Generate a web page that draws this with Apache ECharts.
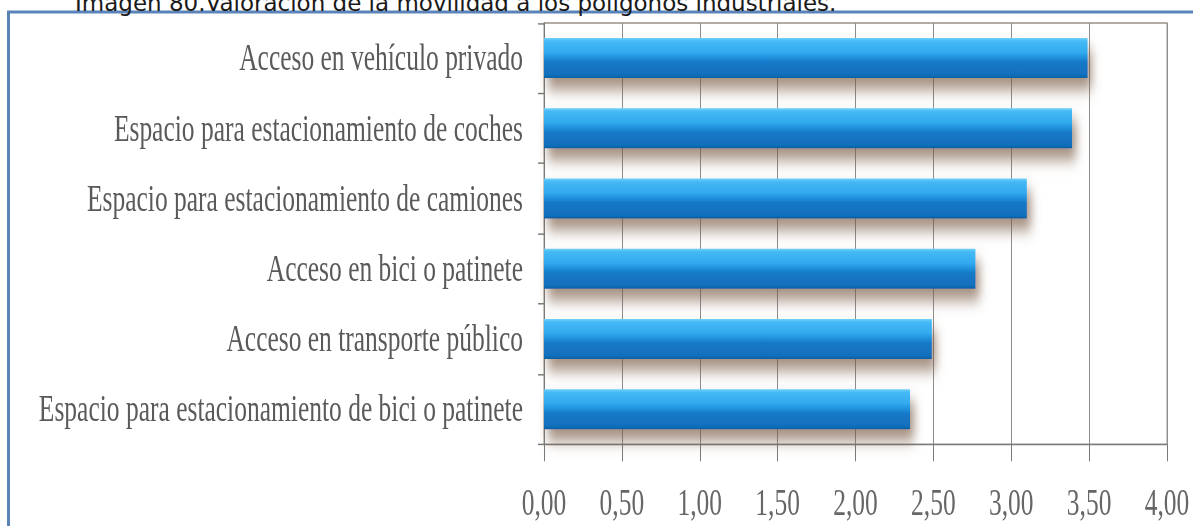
<!DOCTYPE html>
<html>
<head>
<meta charset="utf-8">
<script src="https://cdn.jsdelivr.net/npm/echarts@6/dist/echarts.min.js"></script>
<style>
  html, body { margin: 0; padding: 0; background: #ffffff; overflow: hidden; }
  #frame { position: absolute; left: 0; top: 0; width: 1193px; height: 526px; }
  #chart { position: absolute; left: 0; top: 0; width: 1193px; transform-origin: 0 0; }
</style>
</head>
<body>
<div id="frame"></div>
<div id="chart"></div>
<script>
// Valoración media de cada aspecto de la movilidad (escala 0-4)
const categories = [
  'Acceso en vehículo privado',
  'Espacio para estacionamiento de coches',
  'Espacio para estacionamiento de camiones',
  'Acceso en bici o patinete',
  'Acceso en transporte público',
  'Espacio para estacionamiento de bici o patinete'
];
const values = [3.49, 3.39, 3.10, 2.77, 2.49, 2.35];
const tickLabels = ['0,00', '0,50', '1,00', '1,50', '2,00', '2,50', '3,00', '3,50', '4,00'];
const caption = 'Imagen 80.Valoración de la movilidad a los polígonos industriales.';

// The plot uses a tall, narrow serif lettering: the chart layer is drawn
// at reduced height and stretched vertically by K.
const K = 1.45;
const W = 1193, H = 526;

const chartEl = document.getElementById('chart');
chartEl.style.height = (H / K) + 'px';
chartEl.style.transform = 'scaleY(' + K + ')';

// Caption (running off the top edge) and blue frame, unstretched layer
const frame = echarts.init(document.getElementById('frame'), null, { renderer: 'svg' });
frame.setOption({
  backgroundColor: '#ffffff',
  graphic: [
    {
      type: 'rect',
      shape: { x: 8.5, y: 12, width: 1300, height: 700 },
      style: { fill: 'none', stroke: '#5a84b9', lineWidth: 3 }
    },
    {
      type: 'text',
      x: 75, y: -9,
      style: {
        text: caption,
        fontFamily: 'DejaVu Sans',
        fontSize: 23,
        fill: '#1a1a1a',
        verticalAlign: 'top',
        align: 'left'
      }
    }
  ]
});

const chart = echarts.init(chartEl, null, { renderer: 'svg' });
const textFont = 'Liberation Serif';

chart.setOption({
  backgroundColor: 'transparent',
  animation: false,
  grid: {
    left: 544,
    right: W - 1167,
    top: 23 / K,
    bottom: (H - 444) / K,
    show: true,
    borderColor: '#9a9188',
    borderWidth: 1
  },
  xAxis: {
    type: 'value',
    min: 0,
    max: 4,
    interval: 0.5,
    axisLine: { show: true, lineStyle: { color: '#7a7a7a', width: 1 } },
    axisTick: { show: true, length: 17 / K, lineStyle: { color: '#7a7a7a' } },
    splitLine: { show: true, lineStyle: { color: '#8e8e8e', width: 1 } },
    axisLabel: {
      margin: 27,
      fontFamily: textFont,
      fontSize: 25.5,
      color: '#666666',
      formatter: v => tickLabels[Math.round(v / 0.5)]
    }
  },
  yAxis: {
    type: 'category',
    data: categories,
    inverse: true,
    axisLine: { show: true, lineStyle: { color: '#7a7a7a', width: 1 } },
    axisTick: { show: true, length: 6, lineStyle: { color: '#7a7a7a' } },
    splitLine: { show: false },
    axisLabel: {
      margin: 21,
      fontFamily: textFont,
      fontSize: 25.5,
      color: '#5a5a5a'
    }
  },
  series: [{
    type: 'bar',
    data: values,
    barWidth: 40 / K,
    itemStyle: {
      color: new echarts.graphic.LinearGradient(0, 0, 0, 1, [
        { offset: 0, color: '#6fd0fb' },
        { offset: 0.08, color: '#45b9f5' },
        { offset: 0.35, color: '#33aaef' },
        { offset: 0.5, color: '#1f8fdc' },
        { offset: 0.6, color: '#1679c8' },
        { offset: 0.92, color: '#116fbc' },
        { offset: 1, color: '#0d5f9f' }
      ]),
      shadowColor: 'rgba(115, 85, 65, 0.65)',
      shadowBlur: 10,
      shadowOffsetX: 4,
      shadowOffsetY: 8
    }
  }]
});
</script>
</body>
</html>
